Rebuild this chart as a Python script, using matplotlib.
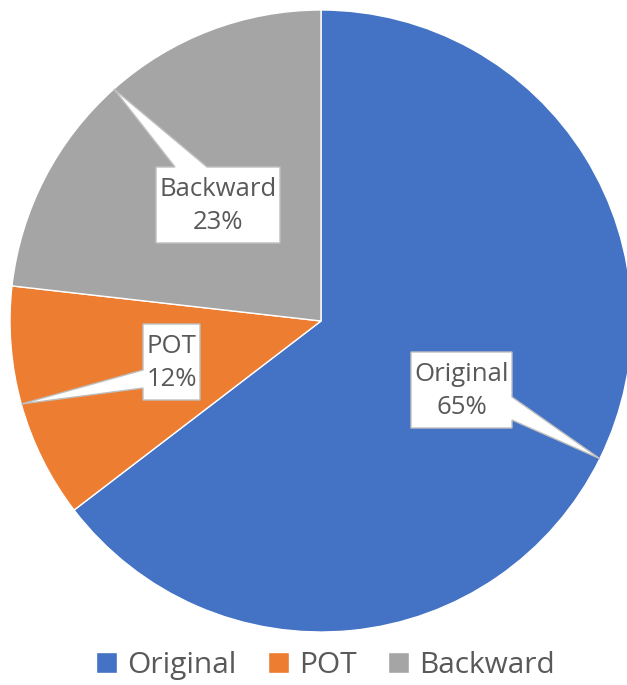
import numpy as np
import matplotlib.pyplot as plt
from matplotlib.patches import Polygon

labels = ['Original', 'POT', 'Backward']
shares = [64.6, 12.2, 23.2]
colors = ['#4472C4', '#ED7D31', '#A5A5A5']

W, H = 627, 685
TXT = '#595959'
plt.rcParams['font.family'] = ['Open Sans', 'DejaVu Sans']

fig = plt.figure(figsize=(W / 100, H / 100), dpi=100)
ax = fig.add_axes([0, 0, 1, 1])

# pie centre / radius in pixels (y measured from top)
cx, cy, r = 321, 321, 311
wedges, _ = ax.pie(shares, colors=colors, startangle=90, counterclock=False,
                   center=(cx, H - cy), radius=r,
                   wedgeprops=dict(linewidth=1, edgecolor='white'))
ax.set_xlim(0, W)
ax.set_ylim(0, H)
ax.set_aspect('equal')
ax.axis('off')

# callout boxes: (x0, y0, x1, y1) in pixels from top, side of pointer, pointer base
boxes = [((411, 352, 512, 428), 'right', (397, 420)),
         ((143, 324, 200, 400), 'left', (370, 388)),
         ((156, 167, 280, 243), 'top', (175, 207))]


def callout(box, side, base, tip):
    x0, y0, x1, y1 = box
    a, b = base
    if side == 'right':
        pts = [(x0, y0), (x1, y0), (x1, a), tip, (x1, b), (x1, y1), (x0, y1)]
    elif side == 'left':
        pts = [(x0, y0), (x1, y0), (x1, y1), (x0, y1), (x0, b), tip, (x0, a)]
    else:
        pts = [(x0, y0), (a, y0), tip, (b, y0), (x1, y0), (x1, y1), (x0, y1)]
    return [(x, H - y) for x, y in pts]


total = sum(shares)
start = 90.0
for lab, v, (box, side, base) in zip(labels, shares, boxes):
    sweep = v / total * 360
    mid = np.radians(start - sweep / 2)
    start -= sweep
    tip = (cx + r * np.cos(mid), cy - r * np.sin(mid))
    ax.add_patch(Polygon(callout(box, side, base, tip), closed=True,
                         facecolor='white', edgecolor='#BFBFBF', linewidth=1, zorder=5))
    x0, y0, x1, y1 = box
    ax.text((x0 + x1) / 2, H - (y0 + y1) / 2 - 1, f'{lab}\n{v / total * 100:.0f}%',
            ha='center', va='center', fontsize=18.5, color=TXT, linespacing=1.45, zorder=6)

leg = ax.legend(wedges, labels, loc='center', bbox_to_anchor=(0.519, 0.029),
                ncol=3, frameon=False, fontsize=21.5, handlelength=0.7, handleheight=0.7,
                handletextpad=0.35, columnspacing=1.05)
for t in leg.get_texts():
    t.set_color(TXT)

fig.savefig('out.png', dpi=100)
